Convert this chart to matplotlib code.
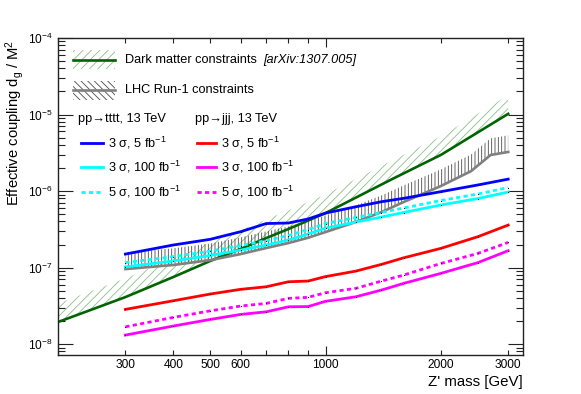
import matplotlib
matplotlib.use("Agg")
import matplotlib.pyplot as plt
from matplotlib.ticker import FixedLocator, FixedFormatter, LogLocator, NullFormatter
from matplotlib.patches import Rectangle
from matplotlib.lines import Line2D

plt.rcParams['font.family'] = ['Liberation Sans', 'DejaVu Sans']
plt.rcParams['mathtext.fontset'] = 'custom'
plt.rcParams['mathtext.rm'] = 'Liberation Sans'
plt.rcParams['mathtext.it'] = 'Liberation Sans:italic'
plt.rcParams['mathtext.bf'] = 'Liberation Sans:bold'
plt.rcParams['hatch.linewidth'] = 0.6

# Z' mass points (GeV)
mass = [300, 400, 500, 600, 700, 800, 900, 1000, 1200, 1400, 1600, 2000, 2500, 3000]

# pp -> tttt, 13 TeV
tttt_3s_5fb = [1.50e-7, 1.97e-7, 2.34e-7, 2.94e-7, 3.76e-7, 3.82e-7, 4.31e-7,
               5.15e-7, 6.23e-7, 7.25e-7, 8.03e-7, 9.80e-7, 1.20e-6, 1.43e-6]
tttt_3s_100fb = [1.02e-7, 1.22e-7, 1.44e-7, 1.69e-7, 1.97e-7, 2.29e-7, 2.74e-7,
                 3.28e-7, 3.93e-7, 4.57e-7, 5.24e-7, 6.56e-7, 7.98e-7, 9.70e-7]
tttt_5s_100fb = [1.16e-7, 1.39e-7, 1.64e-7, 1.94e-7, 2.25e-7, 2.62e-7, 3.14e-7,
                 3.76e-7, 4.51e-7, 5.24e-7, 6.00e-7, 7.52e-7, 9.14e-7, 1.11e-6]

# pp -> jjj, 13 TeV
jjj_3s_5fb = [2.84e-8, 3.68e-8, 4.51e-8, 5.19e-8, 5.61e-8, 6.52e-8, 6.66e-8,
              7.62e-8, 8.99e-8, 1.10e-7, 1.34e-7, 1.78e-7, 2.53e-7, 3.59e-7]
jjj_3s_100fb = [1.31e-8, 1.72e-8, 2.10e-8, 2.44e-8, 2.64e-8, 3.07e-8, 3.09e-8,
                3.62e-8, 4.15e-8, 5.08e-8, 6.21e-8, 8.39e-8, 1.16e-7, 1.66e-7]
jjj_5s_100fb = [1.68e-8, 2.23e-8, 2.72e-8, 3.14e-8, 3.40e-8, 3.96e-8, 4.08e-8,
                4.69e-8, 5.35e-8, 6.66e-8, 7.98e-8, 1.13e-7, 1.53e-7, 2.13e-7]

# dark matter constraints
dm_mass = [200, 300, 400, 500, 600, 700, 800, 1000, 1500, 2000, 3000]
dm_coupling = [1.94e-8, 4.11e-8, 7.51e-8, 1.22e-7, 1.75e-7, 2.43e-7, 3.19e-7,
               5.15e-7, 1.45e-6, 2.96e-6, 1.02e-5]

# LHC Run-1 constraints
lhc_mass = [300, 400, 500, 600, 700, 800, 900, 1000, 1200, 1400, 1600, 2000, 2400, 2700, 3000]
lhc_coupling = [9.55e-8, 1.08e-7, 1.25e-7, 1.50e-7, 1.80e-7, 2.09e-7, 2.45e-7, 2.91e-7,
                3.94e-7, 5.31e-7, 7.18e-7, 1.16e-6, 1.82e-6, 2.96e-6, 3.24e-6]

xtick_values = [300, 400, 500, 600, 1000, 2000, 3000]
xminor_values = [200, 300, 400, 500, 600, 700, 800, 900, 2000, 3000]

GREEN = '#006400'
HATCH_GREEN = '#8cbf8c'
GREY = '#808080'
HATCH_GREY = '#4a4a4a'

fig = plt.figure(figsize=(5.81, 3.94), dpi=100)
ax = fig.add_axes([0.0998, 0.0990, 0.8004, 0.8046])

# hatched constraint bands (hatching drawn on the excluded side)
dm_band = [v * 1.75 for v in dm_coupling]
ax.fill_between(dm_mass, dm_coupling, dm_band, facecolor='none',
                edgecolor=HATCH_GREEN, hatch='////', linewidth=0)
lhc_band = [v * 1.65 for v in lhc_coupling]
ax.fill_between(lhc_mass, lhc_coupling, lhc_band, facecolor='none',
                edgecolor=HATCH_GREY, hatch='|||||', linewidth=0)
ax.plot(dm_mass, dm_coupling, color=GREEN, lw=1.9, solid_joinstyle='miter')
ax.plot(lhc_mass, lhc_coupling, color=GREY, lw=1.9)

dots = dict(marker='s', ms=0.4, mfc='black', mec='black', mew=0.3)
dash = (0, (1.5, 1.2))
ax.plot(mass, tttt_3s_5fb, color='blue', lw=2.0, **dots)
ax.plot(mass, tttt_3s_100fb, color='cyan', lw=2.0, **dots)
ax.plot(mass, tttt_5s_100fb, color='cyan', lw=2.0, ls=dash, **dots)
ax.plot(mass, jjj_3s_5fb, color='red', lw=2.0, **dots)
ax.plot(mass, jjj_3s_100fb, color='magenta', lw=2.0, **dots)
ax.plot(mass, jjj_5s_100fb, color='magenta', lw=2.0, ls=dash, **dots)

ax.set_xscale('log')
ax.set_yscale('log')
ax.set_xlim(200, 3280)
ax.set_ylim(7.2e-9, 1e-4)

ax.xaxis.set_major_locator(FixedLocator([1000]))
ax.xaxis.set_major_formatter(FixedFormatter(['1000']))
ax.xaxis.set_minor_locator(FixedLocator(xminor_values))
ax.xaxis.set_minor_formatter(FixedFormatter(
    [str(v) if v in xtick_values else '' for v in xminor_values]))
ax.yaxis.set_major_locator(LogLocator(base=10))
ax.yaxis.set_minor_locator(LogLocator(base=10, subs=range(2, 10)))
ax.yaxis.set_minor_formatter(NullFormatter())

ax.tick_params(which='both', direction='in', top=True, right=True,
               labelsize=8.6, width=0.8, color='#222222')
ax.tick_params(axis='x', which='major', length=6.5, pad=3)
ax.tick_params(axis='x', which='minor', length=3.6, pad=3)
ax.tick_params(axis='y', which='major', length=10.5, pad=4)
ax.tick_params(axis='y', which='minor', length=5.3)
for s in ax.spines.values():
    s.set_linewidth(1.0)
    s.set_color('#222222')

fig.text(15 / 581, 1 - 40 / 394, r'Effective coupling d$_\mathregular{g}$ / M$^\mathregular{2}$',
         rotation=90, ha='center', va='top', fontsize=10.6)
fig.text(523 / 581, 1 - 382 / 394, "Z' mass [GeV]", ha='right', va='center', fontsize=10.8)

# legend, top block
fs = 9.2
ax.add_patch(Rectangle((0.032, 0.902), 0.091, 0.059, transform=ax.transAxes,
                       facecolor='none', edgecolor=HATCH_GREEN, hatch='////', linewidth=0))
ax.add_line(Line2D([0.032, 0.123], [0.931, 0.931], transform=ax.transAxes, color=GREEN, lw=1.9))
ax.text(0.144, 0.931, 'Dark matter constraints', transform=ax.transAxes, va='center', fontsize=fs)
ax.text(0.441, 0.931, '[arXiv:1307.005]', transform=ax.transAxes, va='center',
        fontsize=fs, style='italic')
ax.add_patch(Rectangle((0.032, 0.805), 0.091, 0.060, transform=ax.transAxes,
                       facecolor='none', edgecolor=HATCH_GREY, hatch='\\\\\\\\\\', linewidth=0))
ax.add_line(Line2D([0.032, 0.123], [0.836, 0.836], transform=ax.transAxes, color=GREY, lw=1.9))
ax.text(0.144, 0.836, 'LHC Run-1 constraints', transform=ax.transAxes, va='center', fontsize=fs)

# legend, signal block
ax.text(0.043, 0.744, 'pp→tttt, 13 TeV', transform=ax.transAxes, va='center', fontsize=fs)
ax.text(0.295, 0.744, 'pp→jjj, 13 TeV', transform=ax.transAxes, va='center', fontsize=fs)
rows = [0.670, 0.594, 0.513]
labels = [r'3 σ, 5 fb$^{-1}$', r'3 σ, 100 fb$^{-1}$', r'5 σ, 100 fb$^{-1}$']
styles = ['-', '-', dash]
for yy, lab, st, cl, cr in zip(rows, labels, styles,
                               ['blue', 'cyan', 'cyan'], ['red', 'magenta', 'magenta']):
    ax.add_line(Line2D([0.049, 0.097], [yy, yy], transform=ax.transAxes, color=cl, lw=2.0, ls=st))
    ax.text(0.108, yy, lab, transform=ax.transAxes, va='center', fontsize=fs)
    ax.add_line(Line2D([0.299, 0.340], [yy, yy], transform=ax.transAxes, color=cr, lw=2.0, ls=st))
    ax.text(0.351, yy, lab, transform=ax.transAxes, va='center', fontsize=fs)

fig.savefig('out.png', dpi=100)
